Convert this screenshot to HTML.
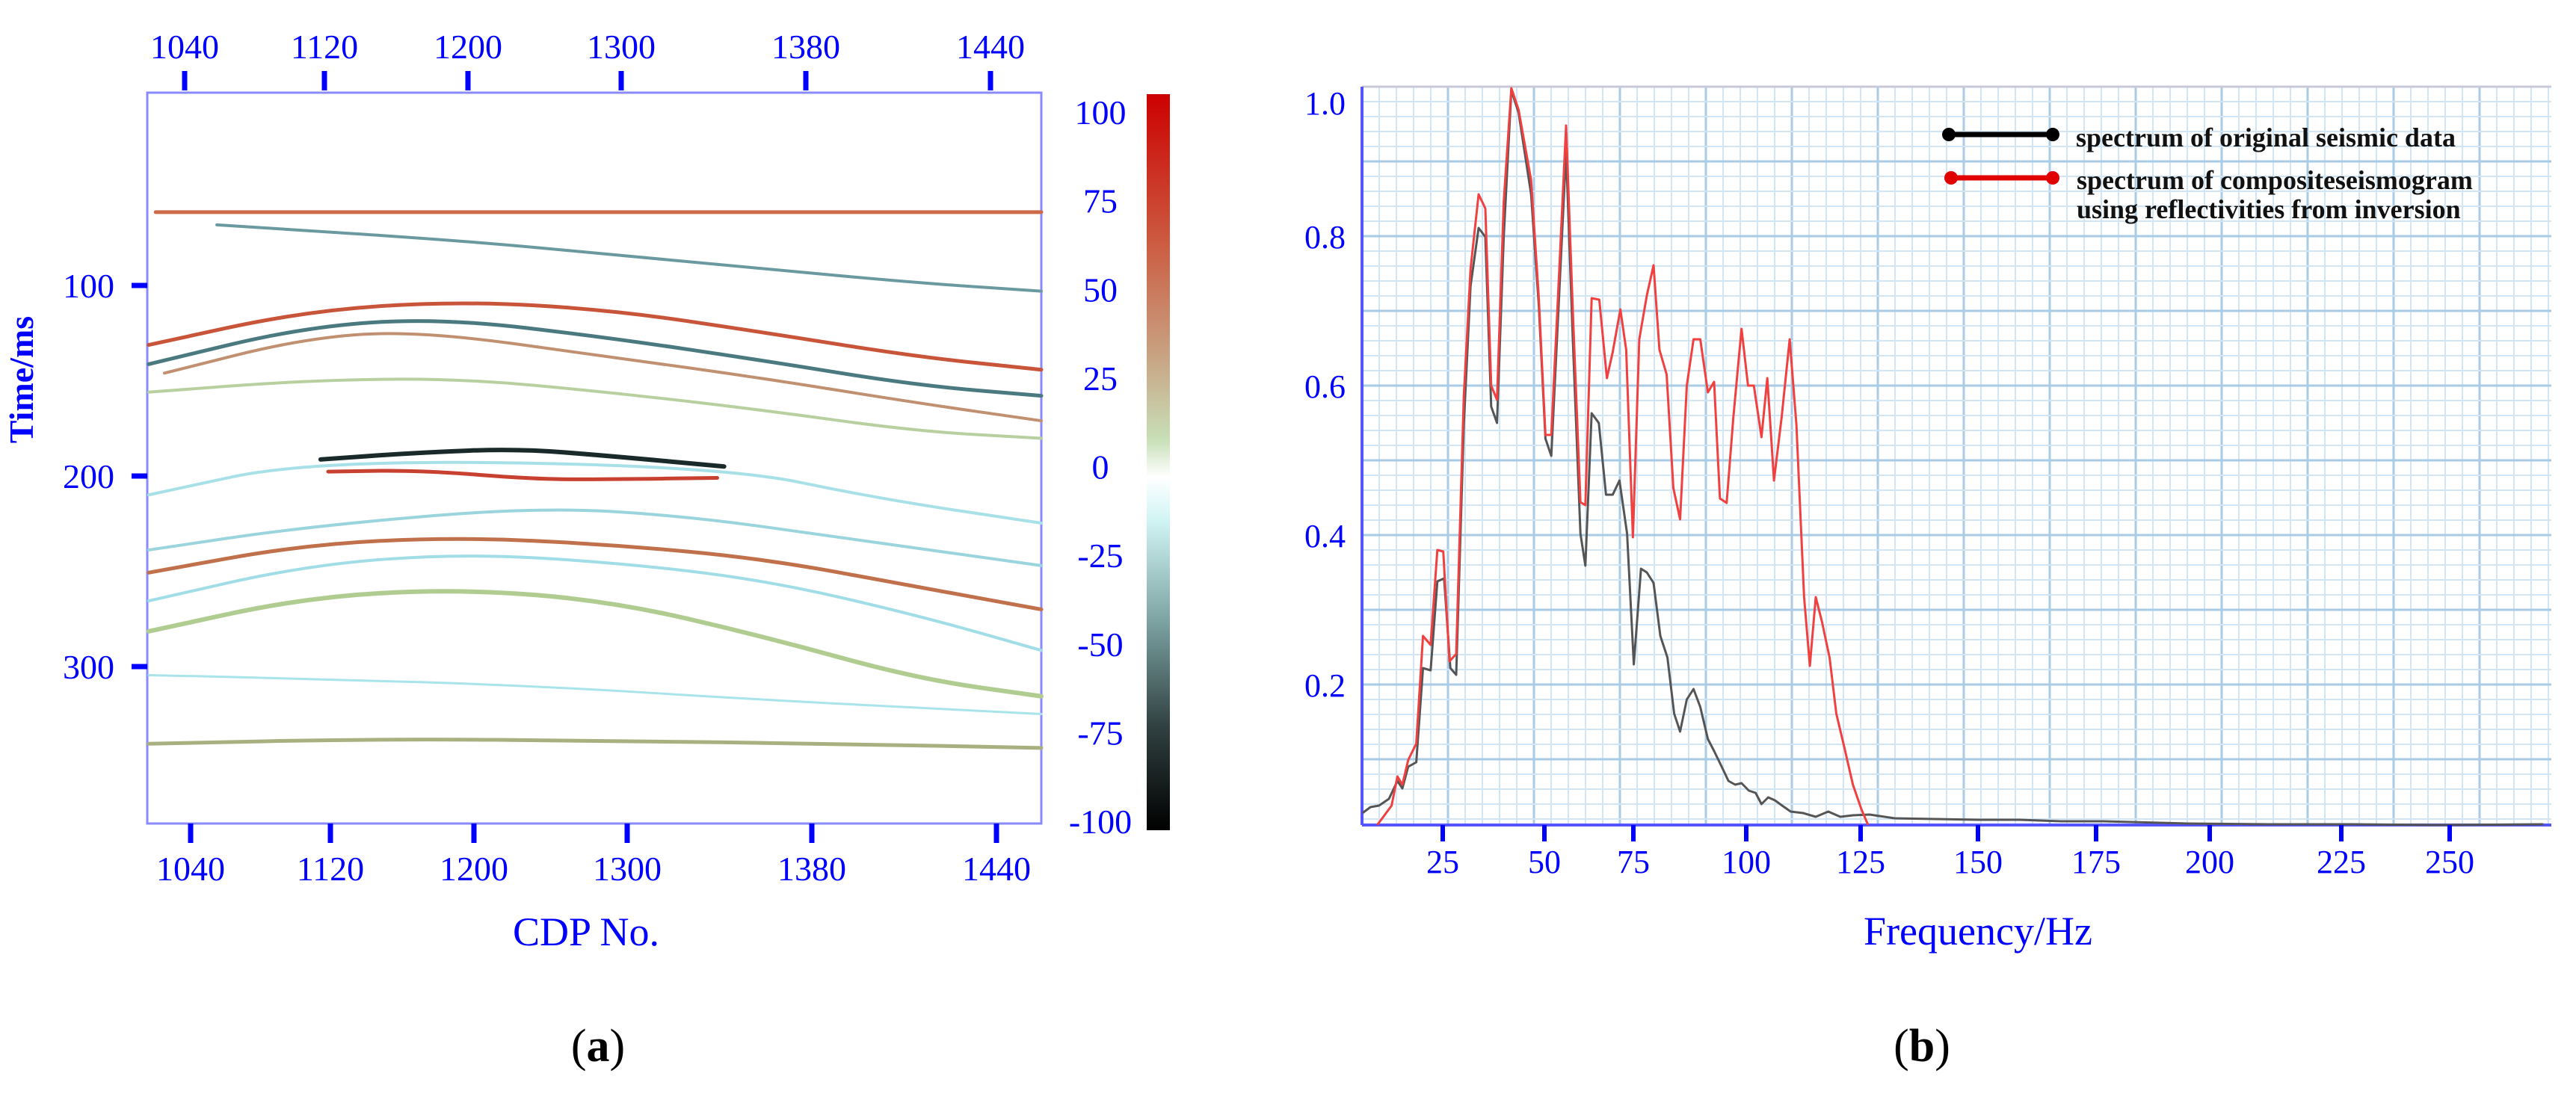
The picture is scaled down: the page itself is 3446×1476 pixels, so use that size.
<!DOCTYPE html>
<html><head><meta charset="utf-8"><style>
html,body{margin:0;padding:0;background:#fff;}
svg{display:block;font-family:"Liberation Serif",serif;}
</style></head><body>
<svg id="fig" width="3446" height="1476" viewBox="0 0 3446 1476" xmlns="http://www.w3.org/2000/svg">
<defs>
<linearGradient id="cbar" x1="0" y1="0" x2="0" y2="1">
<stop offset="0" stop-color="#cc0000"/><stop offset="0.2" stop-color="#cc5a40"/>
<stop offset="0.35" stop-color="#c8a080"/><stop offset="0.47" stop-color="#c8e0b8"/>
<stop offset="0.52" stop-color="#ffffff"/><stop offset="0.58" stop-color="#d0f4f4"/>
<stop offset="0.72" stop-color="#7aa0a0"/><stop offset="0.86" stop-color="#304040"/>
<stop offset="1" stop-color="#000000"/></linearGradient>
</defs>
<g id="panelA"></g>
<g id="panelB"></g>
</svg>
<script>
// ---------- Panel (a) data ----------
const cdpTicks=[1040,1120,1200,1300,1380,1440];
const timeTicks=[100,200,300];
const cbarTicks=[100,75,50,25,0,-25,-50,-75,-100];
const hzCdp1=[1020,1105.5,1191,1289,1359,1414,1455];
const hzTime1=[61.5,61.5,61.5,61.5,61.5,61.5,61.5];
const hzCdp2=[1055,1191,1289,1359,1414,1455];
const hzTime2=[68.2,76.3,83.7,91.2,98.6,103];
const hzCdp3=[1016,1105.5,1191,1289,1359,1414,1455];
const hzTime3=[131.2,113.4,108.2,112.7,124.6,137.4,144.2];
const hzCdp4=[1016,1105.5,1182.5,1289,1359,1414,1455];
const hzTime4=[141.3,121.6,117.1,127.5,139.4,152.4,157.9];
const hzCdp5=[1025,1105.5,1170,1289,1359,1414,1455];
const hzTime5=[146,127.5,123.8,137.5,148.7,161.6,171];
const hzTime6=[156,149.8,148.7,156.1,165.4,176.5,180.2];
const hzCdp7=[1114.4,1170,1229,1289,1342];
const hzTime7=[191.3,187.6,185.7,189.5,195];
const hzCdp8=[1118.7,1170,1239.5,1289,1339];
const hzTime8=[197.7,196.9,201.7,201.7,201];
const hzCdp9=[1016,1110,1342,1401,1455];
const hzTime9=[209.9,191.3,195,211.7,224.7];
const hzCdp10=[1016,1105.5,1239.5,1326,1389,1455];
const hzTime10=[238.8,226.6,216.2,221,232.2,247];
const hzTime11=[250.7,235.9,232.1,235.9,243.3,258.1,270];
const hzTime12=[265.5,246.9,240.7,245.1,254.4,272.9,291.5];
const hzTime13=[281.5,263.7,259.2,265.5,284.1,306.3,315.6];
const hzCdp14=[1016,1105.5,1239.5,1359,1455];
const hzTime14=[304.5,306.3,310,317.5,324.9];
const hzCdp15=[1016,1148,1289,1389,1455];
const hzTime15=[340.5,337.9,339,340.5,342.7];

// ---------- Panel (b) data ----------
const freqTicks=[25,50,75,100,125,150,175,200,225,250];
const ampTicks=[0.2,0.4,0.6,0.8,1.0];
const redFreq=[8.9,12.43,13.86,15.08,16.51,18.5,20.15,22.03,23.68,25.12,26.66,28.31,30.19,31.84,33.83,35.48,36.92,38.35,40.0,41.88,43.65,46.73,48.61,50.3,51.94,53.83,56.1,57.99,60.13,61.52,63.28,65.42,67.57,69.21,71.35,72.99,74.88,76.3,77.99,79.47,80.77,82.36,83.85,85.34,86.83,88.32,89.81,91.5,92.88,94.18,95.67,97.16,98.95,100.39,101.66,103.33,104.6,106.07,107.74,109.5,110.97,112.64,113.91,115.19,116.56,118.22,119.69,121.56,123.32,125.17,126.6];
const redAmp=[0.007,0.038,0.077,0.066,0.099,0.121,0.265,0.253,0.380,0.378,0.231,0.241,0.586,0.756,0.856,0.837,0.600,0.581,0.846,0.998,0.969,0.875,0.719,0.534,0.534,0.719,0.948,0.700,0.444,0.440,0.717,0.715,0.610,0.645,0.702,0.648,0.397,0.662,0.721,0.761,0.648,0.615,0.463,0.421,0.600,0.662,0.662,0.591,0.605,0.449,0.443,0.558,0.676,0.600,0.600,0.531,0.610,0.473,0.558,0.662,0.548,0.317,0.225,0.317,0.284,0.236,0.161,0.113,0.066,0.033,0.007];
const blackFreq=[5.26,7.25,9.34,11.77,13.86,15.08,16.51,18.5,20.15,22.03,23.68,25.34,26.88,28.31,30.19,31.84,33.83,35.48,36.92,38.35,40.0,41.88,43.65,46.73,48.61,50.3,51.94,53.83,56.1,57.99,60.13,61.52,63.28,65.3,67.31,69.21,71.1,73.24,75.1,76.69,77.98,79.47,80.97,82.55,84.04,85.34,86.83,88.32,89.81,91.5,92.88,94.57,96.06,97.55,98.95,100.58,102.05,103.33,104.8,106.27,107.84,109.7,112.44,115.19,117.93,120.58,123.32,126.89,132.24,141.03,150.0,158.77,167.6,176.56,194.8,211.3,227.4,246.7,271.6];
const blackAmp=[0.028,0.036,0.038,0.047,0.071,0.061,0.090,0.096,0.222,0.219,0.338,0.342,0.222,0.213,0.548,0.733,0.811,0.799,0.572,0.550,0.799,0.995,0.965,0.856,0.709,0.529,0.506,0.690,0.913,0.662,0.402,0.359,0.563,0.550,0.454,0.454,0.473,0.402,0.227,0.355,0.350,0.336,0.265,0.236,0.161,0.137,0.180,0.194,0.170,0.127,0.111,0.090,0.071,0.066,0.068,0.058,0.055,0.040,0.049,0.045,0.038,0.030,0.028,0.023,0.030,0.023,0.025,0.026,0.021,0.020,0.019,0.019,0.017,0.017,0.014,0.013,0.013,0.011,0.013];

// axis configuration (non-uniform source axes)
const cdpAxisPx=[255,442,634,839,1086,1333];
const freqAxisPx=[1930,2066,2185,2336,2489,2646,2804,2956,3132,3277];
function polyScale(dom,rng){
  return v=>{
    let i=0;
    if(v<=dom[0])i=0;else if(v>=dom[dom.length-1])i=dom.length-2;
    else{while(v>dom[i+1])i++;}
    return rng[i]+(v-dom[i])*(rng[i+1]-rng[i])/(dom[i+1]-dom[i]);
  };
}

const NS='http://www.w3.org/2000/svg';
function mk(tag,attrs,parent,text){const e=document.createElementNS(NS,tag);for(const k in attrs)e.setAttribute(k,attrs[k]);if(text!==undefined)e.textContent=text;parent.appendChild(e);return e;}

// ---------- Panel (a) ----------
const A=document.getElementById('panelA');
const xA=polyScale(cdpTicks,cdpAxisPx);
const yA=t=>127+t*2.55;
const L=197,R=1393,T=124,B=1102;
let e;
e=mk('rect',{x:L,y:T,width:R-L,height:B-T,fill:'#fff',stroke:'#8a8aff','stroke-width':3},A);

const horizons=[
 [hzCdp1,hzTime1,'#cc6a48',5],[hzCdp2,hzTime2,'#6a9aa0',4],[hzCdp3,hzTime3,'#c8553a',5],
 [hzCdp4,hzTime4,'#4a7a80',5],[hzCdp5,hzTime5,'#c09070',4],[hzCdp3,hzTime6,'#b8d0a0',4],
 [hzCdp7,hzTime7,'#1a2a2a',6],[hzCdp8,hzTime8,'#c84030',5],[hzCdp9,hzTime9,'#a8e0e8',4],
 [hzCdp10,hzTime10,'#9ad4dc',4],[hzCdp3,hzTime11,'#c0704a',5],[hzCdp3,hzTime12,'#a0dde6',4],
 [hzCdp3,hzTime13,'#b0cc90',6],[hzCdp14,hzTime14,'#a8e4ea',3],[hzCdp15,hzTime15,'#a8b080',5]];
horizons.forEach((h,i)=>{
  const pts=h[0].map((c,j)=>[Math.max(L,Math.min(R,xA(c))),yA(h[1][j])]);
  let d='M'+pts[0][0]+','+pts[0][1];
  for(let j=1;j<pts.length;j++){const p0=pts[j-1],p1=pts[j];const mx=(p0[0]+p1[0])/2;d+=' Q'+p0[0]+','+p0[1]+' '+mx+','+(p0[1]+p1[1])/2;}
  d+=' L'+pts[pts.length-1][0]+','+pts[pts.length-1][1];
  const p=mk('path',{d:d,fill:'none',stroke:h[2],'stroke-width':h[3],'stroke-linecap':'round'},A);
  
  
});
cdpTicks.forEach(c=>{
  const x=xA(c);
  let t=mk('rect',{x:x-11.5,y:95,width:7,height:26,fill:'#0000ff'},A);
  
  t=mk('rect',{x:x-3.5,y:B,width:7,height:26,fill:'#0000ff'},A);
  
  t=mk('text',{x:x-8,y:78,'font-size':46,fill:'#0000ff','text-anchor':'middle'},A,String(c));
  
  t=mk('text',{x:x,y:1178,'font-size':46,fill:'#0000ff','text-anchor':'middle'},A,String(c));
  
});
timeTicks.forEach(v=>{
  const y=yA(v);
  let t=mk('rect',{x:176,y:y-3.5,width:21,height:7,fill:'#0000ff'},A);
  
  t=mk('text',{x:153,y:y+16,'font-size':46,fill:'#0000ff','text-anchor':'end'},A,String(v));
  
});
e=mk('text',{x:0,y:0,'font-size':46,'font-weight':'bold',fill:'#0000ff','text-anchor':'middle',transform:'translate(44,508) rotate(-90)'},A,'Time/ms');

e=mk('text',{x:784,y:1265,'font-size':54,fill:'#0000ff','text-anchor':'middle'},A,'CDP No.');

e=mk('rect',{x:1534,y:126,width:31,height:985,fill:'url(#cbar)'},A);

const cbY=v=>150+(100-v)*(1099-150)/200;
cbarTicks.forEach(v=>{
  const t=mk('text',{x:1472,y:cbY(v)+16,'font-size':46,fill:'#0000ff','text-anchor':'middle'},A,String(v));
  
});
e=mk('text',{x:800,y:1420,'font-size':62,fill:'#000','text-anchor':'middle'},A);
mk('tspan',{},e,'(');mk('tspan',{'font-weight':'bold'},e,'a');mk('tspan',{},e,')');


// ---------- Panel (b) ----------
const Bp=document.getElementById('panelB');
const PL=1822,PR=3413,PT=116,PB=1104;
const xB=polyScale(freqTicks,freqAxisPx);
const yB=v=>1116-v*1000;
const grid=mk('g',{},Bp);

for(let i=0;PL+i*23<=PR;i++){const x=PL+i*23;mk('line',{x1:x,y1:PT,x2:x,y2:PB,stroke:i%5===0?'#a9cbe6':'#d2e5f4','stroke-width':i%5===0?3:2},grid);}
for(let i=0;PB-i*20>=PT;i++){const y=yB(0)-i*20;if(y>PB)continue;mk('line',{x1:PL,y1:y,x2:PR,y2:y,stroke:i%5===0?'#a9cbe6':'#d2e5f4','stroke-width':i%5===0?3:2},grid);}
mk('line',{x1:PL,y1:PT,x2:PR,y2:PT,stroke:'#c8c8d8','stroke-width':3},grid);
e=mk('line',{x1:PL,y1:PT,x2:PL,y2:PB,stroke:'#5555ff','stroke-width':4},Bp);

e=mk('line',{x1:PL,y1:PB,x2:PR,y2:PB,stroke:'#5555ff','stroke-width':4},Bp);

function line(fs,as,color,name){
  const d=fs.map((f,i)=>(i?'L':'M')+Math.max(PL,Math.min(PR,xB(f))).toFixed(1)+','+Math.min(PB,yB(as[i])).toFixed(1)).join(' ');
  const p=mk('path',{d:d,fill:'none',stroke:color,'stroke-width':3,'stroke-linejoin':'round'},Bp);
  
  
}
line(blackFreq,blackAmp,'#555555','original-spectrum-line');
line(redFreq,redAmp,'#f04040','composite-spectrum-line');
freqTicks.forEach(f=>{
  const x=xB(f);
  let t=mk('rect',{x:x-3,y:PB,width:6,height:22,fill:'#0000ff'},Bp);
  
  t=mk('text',{x:x,y:1168,'font-size':44,fill:'#0000ff','text-anchor':'middle'},Bp,String(f));
  
});
ampTicks.forEach(v=>{
  const t=mk('text',{x:1800,y:yB(v)+16+(v===1?21:0),'font-size':44,fill:'#0000ff','text-anchor':'end'},Bp,v.toFixed(1));
  
});
e=mk('text',{x:2646,y:1264,'font-size':54,fill:'#0000ff','text-anchor':'middle'},Bp,'Frequency/Hz');

const lg=mk('g',{},Bp);

e=mk('line',{x1:2607,y1:180,x2:2746,y2:180,stroke:'#000','stroke-width':7},lg);

mk('circle',{cx:2607,cy:180,r:9,fill:'#000'},lg);mk('circle',{cx:2746,cy:180,r:9,fill:'#000'},lg);
e=mk('line',{x1:2610,y1:238,x2:2746,y2:238,stroke:'#e00000','stroke-width':7},lg);

mk('circle',{cx:2610,cy:238,r:9,fill:'#e00000'},lg);mk('circle',{cx:2746,cy:238,r:9,fill:'#e00000'},lg);
e=mk('text',{x:2777,y:196,'font-size':36,'font-weight':'bold',fill:'#111'},lg,'spectrum of original seismic data');

e=mk('text',{x:2778,y:253,'font-size':36,'font-weight':'bold',fill:'#111'},lg,'spectrum of compositeseismogram');

e=mk('text',{x:2778,y:292,'font-size':36,'font-weight':'bold',fill:'#111'},lg,'using reflectivities from inversion');

e=mk('text',{x:2571,y:1420,'font-size':62,fill:'#000','text-anchor':'middle'},Bp);
mk('tspan',{},e,'(');mk('tspan',{'font-weight':'bold'},e,'b');mk('tspan',{},e,')');

</script>
</body></html>
